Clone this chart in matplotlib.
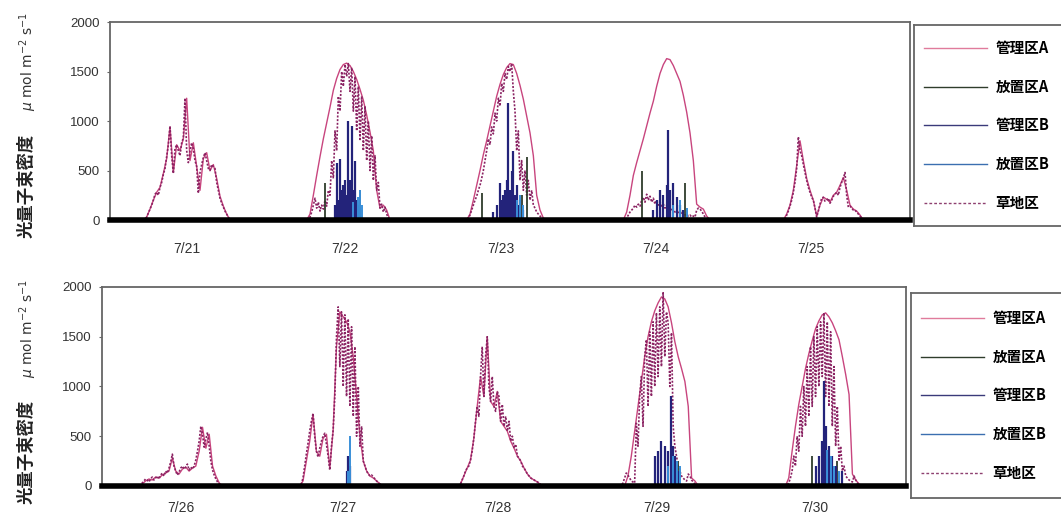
import numpy as np
import matplotlib
matplotlib.use("Agg")
import matplotlib.pyplot as plt
from matplotlib.lines import Line2D

plt.rcParams['font.family'] = ['Liberation Sans', 'Noto Sans CJK JP', 'DejaVu Sans']

# ---------------- data ----------------
TOP_DAYS = ['7/21', '7/22', '7/23', '7/24', '7/25']
BOT_DAYS = ['7/26', '7/27', '7/28', '7/29', '7/30']
SERIES = ['管理区A', '放置区A', '管理区B', '放置区B', '草地区']

# 管理区A: half-hourly values from 5:00
MGMT_A_START, MGMT_A_STEP = 5.0, 0.5
TOP_MGMT_A = [
    [0, 30, 110, 200, 280, 330, 470, 620, 940, 480, 760, 700, 820, 1230, 600, 780, 540, 300, 620, 680, 500, 560, 420, 240, 140, 60, 0, 0],
    [0, 0, 60, 250, 450, 640, 820, 980, 1140, 1310, 1430, 1520, 1570, 1585, 1560, 1500, 1420, 1320, 1210, 1060, 890, 700, 300, 120, 150, 100, 0, 0],
    [0, 0, 60, 200, 350, 500, 660, 800, 950, 1100, 1250, 1370, 1470, 1540, 1580, 1570, 1480, 1360, 1220, 1050, 880, 650, 250, 100, 20, 0, 0, 0],
    [0, 80, 250, 450, 580, 700, 820, 950, 1080, 1200, 1350, 1480, 1570, 1630, 1620, 1560, 1480, 1400, 1260, 1090, 880, 600, 160, 130, 110, 40, 0, 0],
    [0, 60, 150, 300, 550, 800, 600, 420, 300, 200, 40, 150, 230, 210, 180, 250, 280, 350, 430, 300, 150, 110, 90, 50, 0, 0, 0, 0],
]
BOT_MGMT_A = [
    [0, 0, 20, 50, 70, 60, 90, 80, 110, 130, 150, 280, 150, 120, 170, 190, 150, 180, 200, 350, 590, 380, 520, 200, 100, 30, 0, 0],
    [0, 0, 50, 250, 450, 720, 350, 300, 480, 520, 180, 560, 1400, 1750, 1700, 1650, 1550, 1300, 900, 500, 250, 150, 100, 80, 50, 20, 0, 0],
    [0, 20, 100, 180, 260, 480, 800, 1100, 900, 1500, 850, 800, 950, 650, 600, 550, 450, 380, 300, 250, 180, 120, 80, 60, 40, 10, 0, 0],
    [0, 0, 0, 100, 300, 550, 800, 1050, 1300, 1500, 1650, 1760, 1840, 1900, 1880, 1800, 1640, 1450, 1300, 1180, 1050, 800, 80, 50, 0, 0, 0, 0],
    [0, 0, 0, 80, 350, 600, 820, 1000, 1180, 1330, 1460, 1580, 1660, 1720, 1740, 1700, 1640, 1560, 1470, 1300, 1120, 920, 120, 60, 20, 0, 0, 0],
]

# 草地区: quarter-hourly values from 5:00
GRASS_START, GRASS_STEP = 5.0, 0.25
TOP_GRASS = [
    [0, 0, 30, 70, 110, 150, 200, 260, 280, 250, 330, 380, 460, 520, 640, 760, 950, 650, 470, 720, 760, 700, 650, 780, 830, 1230, 700, 580, 700, 780, 720, 600, 540, 270, 480, 560, 630, 680, 600, 520, 500, 560, 540, 520, 380, 300, 220, 170, 130, 90, 60, 30, 0, 0, 0],
    [0, 0, 0, 0, 30, 80, 150, 220, 120, 180, 90, 150, 110, 200, 140, 300, 250, 600, 420, 900, 700, 1250, 1100, 1500, 1350, 1570, 1450, 1580, 1300, 1540, 1100, 1450, 900, 1350, 800, 1250, 700, 1150, 600, 1000, 500, 850, 400, 650, 300, 380, 120, 160, 80, 130, 60, 20, 0, 0, 0],
    [0, 0, 0, 20, 50, 100, 150, 200, 240, 300, 350, 420, 500, 600, 700, 820, 760, 940, 870, 1080, 1000, 1230, 1150, 1380, 1300, 1480, 1420, 1550, 1500, 1580, 1300, 1100, 700, 900, 400, 600, 300, 500, 250, 400, 200, 300, 150, 120, 80, 60, 40, 20, 0, 0, 0, 0, 0, 0, 0],
    [0, 0, 20, 50, 80, 100, 120, 150, 130, 160, 140, 200, 230, 180, 260, 200, 240, 180, 220, 160, 200, 150, 180, 140, 160, 120, 150, 100, 130, 90, 110, 80, 100, 70, 90, 60, 80, 50, 60, 40, 50, 30, 40, 30, 100, 120, 110, 90, 60, 30, 0, 0, 0, 0, 0],
    [0, 0, 50, 90, 140, 200, 280, 380, 520, 840, 700, 650, 560, 480, 400, 330, 280, 230, 200, 120, 30, 90, 160, 220, 230, 190, 200, 220, 170, 200, 240, 260, 280, 250, 330, 380, 420, 480, 250, 130, 140, 120, 100, 100, 80, 60, 40, 20, 0, 0, 0, 0, 0, 0, 0],
]
BOT_GRASS = [
    [0, 0, 0, 10, 30, 50, 70, 60, 40, 70, 90, 60, 80, 100, 70, 110, 130, 100, 150, 130, 180, 240, 320, 200, 150, 110, 140, 180, 200, 170, 190, 220, 160, 190, 170, 200, 260, 350, 450, 600, 520, 390, 470, 540, 400, 250, 160, 110, 70, 40, 20, 0, 0, 0, 0],
    [0, 0, 0, 20, 80, 200, 320, 430, 550, 650, 730, 500, 350, 290, 380, 450, 500, 530, 420, 300, 160, 400, 560, 900, 1500, 1800, 1200, 1750, 1000, 1720, 900, 1680, 800, 1600, 700, 1400, 500, 1000, 400, 600, 250, 200, 150, 120, 100, 110, 90, 70, 50, 30, 20, 0, 0, 0, 0],
    [0, 0, 20, 60, 100, 150, 180, 200, 260, 350, 480, 650, 800, 700, 1100, 1400, 900, 1300, 1500, 1000, 850, 1100, 800, 750, 950, 900, 650, 820, 600, 700, 550, 650, 450, 500, 380, 420, 300, 280, 250, 200, 180, 150, 120, 100, 80, 70, 60, 50, 40, 30, 10, 0, 0, 0, 0],
    [0, 0, 0, 30, 80, 130, 110, 80, 50, 40, 30, 630, 400, 900, 1100, 600, 1300, 1470, 800, 1550, 900, 1650, 1000, 1740, 1100, 1800, 1200, 1950, 1300, 1750, 1640, 1000, 1540, 600, 400, 300, 200, 150, 100, 80, 60, 50, 120, 100, 60, 40, 20, 0, 0, 0, 0, 0, 0, 0, 0],
    [0, 0, 0, 0, 0, 10, 30, 80, 150, 300, 200, 500, 350, 800, 500, 1000, 600, 1200, 700, 1400, 800, 1500, 900, 1600, 1000, 1650, 1100, 1740, 900, 1650, 800, 1550, 600, 1200, 400, 800, 250, 400, 150, 200, 100, 80, 60, 50, 40, 100, 60, 30, 0, 0, 0, 0, 0, 0, 0],
]

# spiky series: (day index, hour, value)
TOP_FREE_A = [(1, 8.25, 370), (1, 12.0, 200), (1, 13.5, 300),
              (2, 7.8, 270), (2, 13.75, 250), (2, 14.5, 640),
              (3, 7.8, 500), (3, 13.0, 150), (3, 14.25, 370)]
TOP_MGMT_B = [(1, 9.75, 150), (1, 10.0, 580), (1, 10.25, 200), (1, 10.5, 620), (1, 10.75, 300),
              (1, 11.0, 350), (1, 11.25, 400), (1, 11.5, 250), (1, 11.75, 1000), (1, 12.0, 400),
              (1, 12.25, 950), (1, 12.5, 300), (1, 12.75, 600), (1, 13.0, 200), (1, 13.25, 150), (1, 13.5, 120),
              (2, 9.5, 80), (2, 10.0, 150), (2, 10.5, 370), (2, 10.75, 200), (2, 11.0, 250), (2, 11.25, 300),
              (2, 11.5, 400), (2, 11.75, 1180), (2, 12.0, 300), (2, 12.25, 500), (2, 12.5, 700), (2, 12.75, 250),
              (2, 13.0, 350), (2, 13.25, 150), (2, 13.5, 200), (2, 14.0, 100),
              (3, 9.5, 100), (3, 10.0, 200), (3, 10.5, 300), (3, 11.0, 250), (3, 11.5, 350), (3, 11.75, 910),
              (3, 12.0, 300), (3, 12.5, 370), (3, 13.0, 230), (3, 13.5, 150), (3, 14.0, 100)]
TOP_FREE_B = [(1, 12.5, 180), (1, 13.25, 230), (1, 13.5, 300), (1, 13.75, 150),
              (2, 13.0, 200), (2, 13.5, 250), (2, 14.0, 150),
              (3, 12.5, 150), (3, 13.5, 200), (3, 14.5, 120)]
BOT_FREE_A = [(3, 12.0, 200), (3, 14.0, 250), (4, 10.0, 300), (4, 13.75, 250)]
BOT_MGMT_B = [(1, 12.5, 150), (1, 12.75, 300), (1, 13.0, 200),
              (3, 10.5, 300), (3, 11.0, 350), (3, 11.5, 450), (3, 12.0, 400), (3, 12.5, 350),
              (3, 13.0, 900), (3, 13.25, 400), (3, 13.5, 300), (3, 14.0, 150),
              (4, 10.5, 200), (4, 11.0, 300), (4, 11.5, 450), (4, 11.75, 1060), (4, 12.0, 600),
              (4, 12.5, 400), (4, 13.0, 300), (4, 13.5, 200), (4, 14.5, 150)]
BOT_FREE_B = [(1, 12.75, 150), (1, 13.0, 500),
              (3, 12.5, 200), (3, 13.25, 300), (3, 13.75, 250), (3, 14.25, 200),
              (4, 12.25, 360), (4, 12.75, 300), (4, 13.25, 200), (4, 14.0, 150)]

TOP_TICKS = [0.48, 1.47, 2.44, 3.41, 4.38]
BOT_TICKS = [0.49, 1.50, 2.46, 3.45, 4.43]
Y_TICKS = [0, 500, 1000, 1500, 2000]

COL_MGMT_A = '#c8457e'
COL_FREE_A = '#2f3d2c'
COL_MGMT_B = '#23237a'
COL_FREE_B = '#3a8fd8'
COL_GRASS = '#8a2262'


def build(day_lists, start, step):
    ts, vs = [], []
    for d, vals in enumerate(day_lists):
        h = start + step * np.arange(len(vals))
        ts.append(d + h / 24.0)
        vs.append(np.asarray(vals, float))
    return np.concatenate(ts), np.concatenate(vs)


def spikes(lst):
    arr = np.array(lst, float)
    return arr[:, 0] + arr[:, 1] / 24.0, arr[:, 2]


fig = plt.figure(figsize=(10.61, 5.22), dpi=100)
fig.patch.set_facecolor('white')

ax_top = fig.add_axes([0.10368, 0.57854, 0.75401, 0.37931])
ax_bot = fig.add_axes([0.09613, 0.06897, 0.75778, 0.38123])

panels = [
    (ax_top, TOP_DAYS, TOP_MGMT_A, TOP_GRASS, TOP_FREE_A, TOP_MGMT_B, TOP_FREE_B, TOP_TICKS, 16),
    (ax_bot, BOT_DAYS, BOT_MGMT_A, BOT_GRASS, BOT_FREE_A, BOT_MGMT_B, BOT_FREE_B, BOT_TICKS, 10.5),
]

for ax, days, mA, gr, fA, mB, fB, ticks, pad in panels:
    t, v = build(mA, MGMT_A_START, MGMT_A_STEP)
    ax.plot(t, v, color=COL_MGMT_A, lw=1.0, zorder=3)
    t, v = build(gr, GRASS_START, GRASS_STEP)
    ax.plot(t, v, color=COL_GRASS, lw=1.2, ls=(0, (1.2, 1.0)), zorder=4)
    t, v = spikes(fA)
    ax.vlines(t, 0, v, color=COL_FREE_A, lw=1.3, zorder=5)
    t, v = spikes(mB)
    ax.vlines(t, 0, v, color=COL_MGMT_B, lw=1.6, zorder=5)
    t, v = spikes(fB)
    ax.vlines(t, 0, v, color=COL_FREE_B, lw=1.4, zorder=5)

    ax.set_xlim(0, len(days))
    ax.set_ylim(0, 2000)
    ax.set_yticks(Y_TICKS)
    ax.set_yticklabels([str(y) for y in Y_TICKS], fontsize=9.5, color='#333333')
    ax.set_xticks(ticks)
    ax.set_xticklabels(days, fontsize=10, color='#333333')
    ax.tick_params(axis='x', length=0, pad=pad)
    ax.tick_params(axis='y', direction='out', length=2.5, width=0.8, color='#666666', pad=5)
    for s in ['top', 'right', 'left']:
        ax.spines[s].set_color('#666666')
        ax.spines[s].set_linewidth(1.3)
    ax.spines['bottom'].set_color('black')
    ax.spines['bottom'].set_linewidth(4.0)
    ax.spines['bottom'].set_zorder(6)
    ax.set_facecolor('white')

handles = [
    Line2D([], [], color='#e07b9c', lw=1.0),
    Line2D([], [], color=COL_FREE_A, lw=1.0),
    Line2D([], [], color='#3a3a7a', lw=1.0),
    Line2D([], [], color='#3b6fb0', lw=1.0),
    Line2D([], [], color='#8e4070', lw=1.0, ls=(0, (2, 1.5))),
]

leg_rects = [[0.86145, 0.56705, 0.16, 0.38506], [0.85862, 0.04598, 0.16, 0.39272]]
for rect in leg_rects:
    lax = fig.add_axes(rect)
    lax.set_xticks([])
    lax.set_yticks([])
    for s in lax.spines.values():
        s.set_color('#666666')
        s.set_linewidth(1.3)
    lax.legend(handles, SERIES, loc='center left', bbox_to_anchor=(0.0, 0.5),
               frameon=False, handlelength=4.3, handletextpad=0.6,
               labelspacing=1.55, borderaxespad=0.3,
               prop={'family': ['Noto Sans CJK JP', 'DejaVu Sans'], 'size': 10.5, 'weight': 'bold'})

# y-axis titles (two parts)
for ycen_k, ycen_u in [(186, 61), (452, 328)]:
    fig.text(27 / 1061, 1 - ycen_k / 522, '光量子束密度', rotation=90, ha='center', va='center',
             fontsize=12.5, fontweight='bold', family=['Noto Sans CJK JP', 'DejaVu Sans'], color='#222222')
    fig.text(28 / 1061, 1 - ycen_u / 522, r'$\mu$ mol m$^{-2}$ s$^{-1}$', rotation=90, ha='center', va='center',
             fontsize=10, family=['DejaVu Sans'], color='#333333')

fig.savefig('out.png', dpi=100, facecolor='white')
